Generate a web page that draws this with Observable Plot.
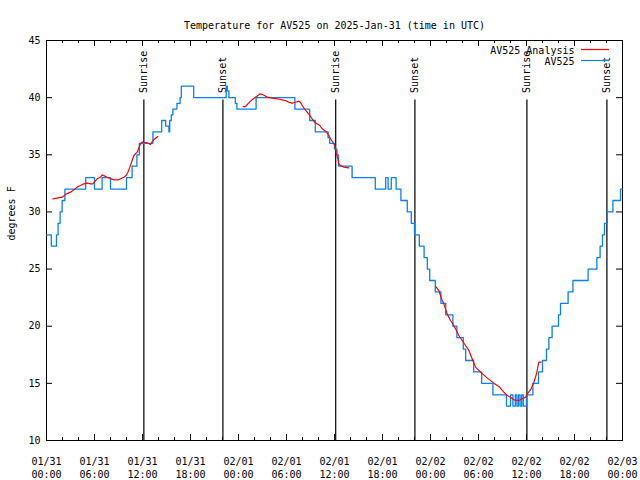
<!DOCTYPE html>
<html><head><meta charset="utf-8">
<script src="https://cdn.jsdelivr.net/npm/d3@7"></script>
<script src="https://cdn.jsdelivr.net/npm/@observablehq/plot@0.6"></script>
<style>body{margin:0;background:#fff} svg{display:block}</style>
</head><body><div id="chart"></div>
<script>
// Hours since 2025-01-31 00:00 UTC, temperature in °F
const obsHours = [0,0.6,1.25,1.45,1.7,1.95,2.3,4.9,6.0,6.95,8.0,10.0,10.7,11.3,11.6,13.3,14.4,14.9,15.3,15.4,15.6,15.8,16.3,16.7,16.85,18.4,22.46,22.6,22.8,23.6,23.8,26.2,31.05,32.9,33.6,35.2,35.4,36.0,36.3,36.5,38.2,41.1,42.4,42.7,43.1,43.7,44.3,45.1,45.6,46.0,46.6,47.2,47.6,47.9,48.6,49.3,49.9,50.8,51.3,52.1,52.4,53.4,54.4,55.8,57.5,58.0,58.3,58.6,58.8,59.0,59.2,59.4,59.6,60.0,60.8,61.5,62.0,62.5,62.8,63.2,64.0,64.25,65.2,65.8,67.7,68.8,69.2,69.5,69.75,70.1,70.8,71.75,72];
const obsTemps = [28,27,28,29,30,31,32,33,32,33,32,33,34,35,36,37,38,37.5,37,38,38.5,39,39.5,40,41,40,41,40.6,40,39.5,39,40,39,38,37,36.5,36,35.5,35,34,33,32,33,32,33,32,31,30,29,28,27,26,25,24,23,22,21,20,19,18,17,16,15,14,13,14,13,14,13,14,13,14,13,14,15,16,17,18,19,20,21,22,23,24,25,26,27,28,29,30,31,32,32];

// Analysis (null = gap)
const anaHours = [0.8,1.96,2.5,3.0,3.42,3.83,4.25,4.67,5.08,5.5,5.79,6.33,6.75,6.96,7.58,8.42,8.92,9.67,9.96,10.17,10.42,10.71,10.92,11.33,11.75,11.96,12.58,13.0,13.3,13.9,
  null,
  24.58,24.88,25.17,25.5,25.83,26.13,26.42,26.67,26.96,27.25,27.58,28.2,28.83,29.46,29.88,30.29,30.7,31.13,31.54,31.75,31.96,32.25,32.58,32.92,33.2,33.5,33.83,34.17,34.46,34.88,35.17,35.5,35.79,36.04,36.13,36.25,36.42,36.54,36.75,37.17,37.79,
  null,
  48.63,49.04,49.25,49.46,49.67,50.08,50.5,50.83,51.13,51.54,51.96,52.38,52.79,53.21,53.63,54.25,55.08,55.92,56.54,57.17,57.58,58.0,58.42,59.04,59.46,59.88,60.17,60.58,60.92,61.25,61.54,61.83];
const anaTemps = [31.15,31.29,31.58,31.73,31.93,32.17,32.31,32.46,32.52,32.46,32.46,32.9,33.04,33.24,33.04,32.8,32.8,33.04,33.19,33.48,33.92,34.5,34.94,35.23,35.96,36.1,36.05,35.9,36.25,36.6,
  null,
  39.22,39.22,39.46,39.69,39.89,40.04,40.19,40.33,40.28,40.19,40.04,39.96,39.9,39.81,39.75,39.6,39.52,39.6,39.69,39.6,39.31,39.02,38.73,38.44,38.15,37.85,37.71,37.56,37.27,37.06,36.83,36.4,36.1,35.81,35.52,35.08,34.65,34.21,34.06,33.92,33.86,
  null,
  23.48,23.12,22.69,22.25,21.96,21.08,20.5,20.15,19.77,19.19,18.75,18.31,17.88,17.15,16.42,15.98,15.48,15.02,14.73,14.23,13.94,13.79,13.56,13.5,13.65,13.79,14.14,14.52,15.1,15.83,16.85,16.85];

const sunHours = [12.17,22.05,36.15,46.05,60.05,70.05];
const sunLabels = ["Sunrise","Sunset","Sunrise","Sunset","Sunrise","Sunset"];

const xTicks = [0,6,12,18,24,30,36,42,48,54,60,66,72];
const xTickLabels = ["01/31\n00:00","01/31\n06:00","01/31\n12:00","01/31\n18:00","02/01\n00:00","02/01\n06:00","02/01\n12:00","02/01\n18:00","02/02\n00:00","02/02\n06:00","02/02\n12:00","02/02\n18:00","02/03\n00:00"];
const xMinorTicks = [2,4,8,10,14,16,20,22,26,28,32,34,38,40,44,46,50,52,56,58,62,64,68,70];
const yTicks = [10,15,20,25,30,35,40,45];

const title = "Temperature for AV525 on 2025-Jan-31 (time in UTC)";
const yLabel = "degrees F";
const legendLabels = ["AV525 Analysis","AV525"];
const RED = "#ff0000", BLUE = "#0a80f5";
const FONT = "DejaVu Sans Mono";

const obs = obsHours.map((h,i)=>({h, t: obsTemps[i]}));
const ana = anaHours.map((h,i)=>({h, t: anaTemps[i]}));
const sun = sunHours.map((h,i)=>({h, label: sunLabels[i]}));

const chart = Plot.plot({
  width: 640, height: 480,
  marginLeft: 46, marginRight: 18, marginTop: 40, marginBottom: 40,
  style: {fontFamily: FONT, fontSize: "10px", background: "#fff", color: "#000"},
  x: {domain: [0,72]},
  y: {domain: [10,45]},
  marks: [
    Plot.frame({stroke: "#000"}),
    Plot.tickX(xTicks, {x: d=>d, insetTop: 394, stroke: "#000"}),
    Plot.tickX(xTicks, {x: d=>d, insetBottom: 394, stroke: "#000"}),
    Plot.tickX(xMinorTicks, {x: d=>d, insetTop: 397, stroke: "#000"}),
    Plot.tickX(xMinorTicks, {x: d=>d, insetBottom: 397, stroke: "#000"}),
    Plot.tickY(yTicks, {y: d=>d, insetRight: 570, stroke: "#000"}),
    Plot.tickY(yTicks, {y: d=>d, insetLeft: 570, stroke: "#000"}),
    Plot.axisX({ticks: xTicks, tickSize: 0, tickPadding: 15, tickFormat: (d,i)=>xTickLabels[i], label: null, fontSize: 10, lineHeight: 1.3}),
    Plot.axisY({ticks: yTicks, tickSize: 0, tickPadding: 6, label: null, fontSize: 10}),
    Plot.ruleX(sun, {x: "h", y1: 10, y2: 39.8, stroke: "#000", strokeWidth: 1.2}),
    Plot.text(sun, {x: "h", y: 39.8, text: "label", rotate: -90, textAnchor: "start", lineAnchor: "middle", dy: -7, fontSize: 10, fill: "#000"}),
    Plot.line(obs, {x: "h", y: "t", curve: "step-after", stroke: BLUE, strokeWidth: 1.3}),
    Plot.line(ana, {x: "h", y: "t", stroke: RED, strokeWidth: 1.2}),
    Plot.text([title], {frameAnchor: "top", dy: -19, fontSize: 10, fill: "#000"}),
    Plot.text([yLabel], {frameAnchor: "left", dx: -35, rotate: -90, fontSize: 10, fill: "#000"}),
    Plot.text([legendLabels[0]], {frameAnchor: "top-right", dx: -48, dy: 6, textAnchor: "end", fontSize: 10, fill: "#000"}),
    Plot.text([legendLabels[1]], {frameAnchor: "top-right", dx: -48, dy: 17.5, textAnchor: "end", fontSize: 10, fill: "#000"})
  ]
});
document.getElementById("chart").appendChild(chart);
// legend line samples
const svg = d3.select(chart);
[[RED, 49.5],[BLUE, 60.5]].forEach(([c, y]) => {
  svg.append("line").attr("x1", 581).attr("x2", 609).attr("y1", y).attr("y2", y)
    .attr("stroke", c).attr("stroke-width", 1.2);
});
</script></body></html>
